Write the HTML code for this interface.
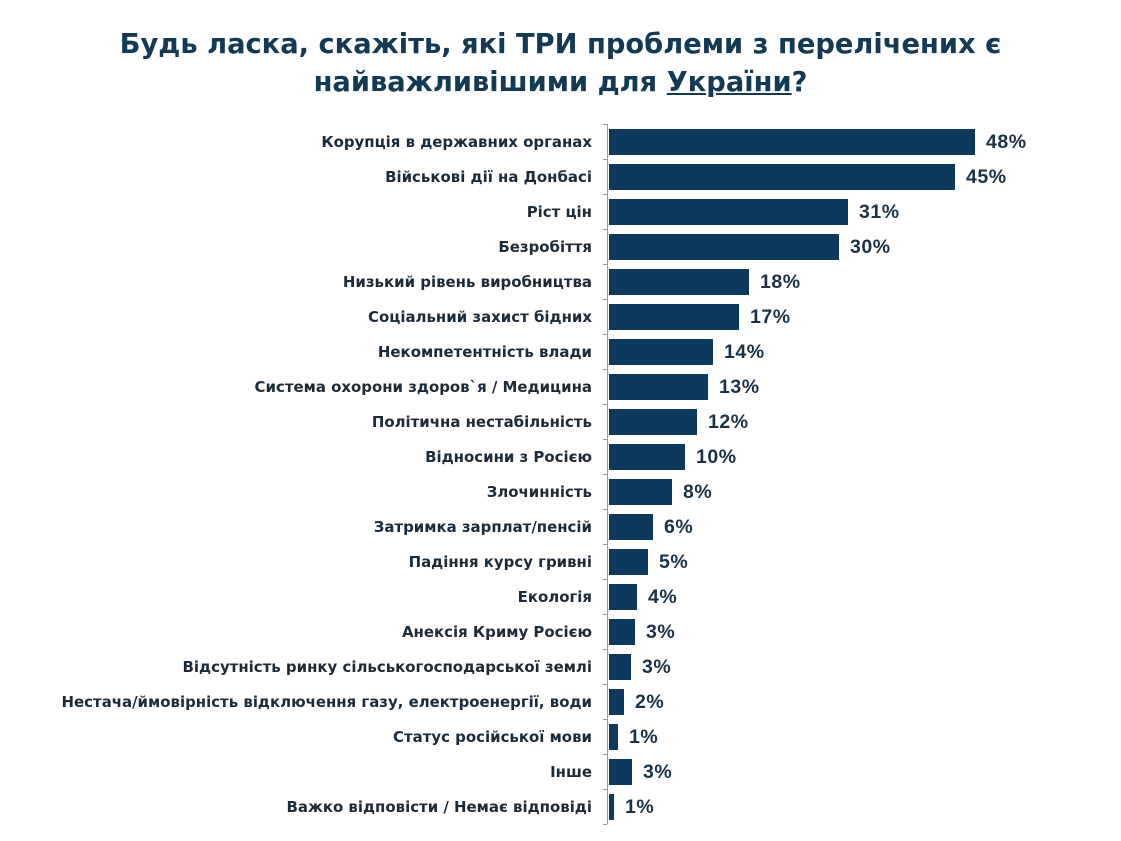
<!DOCTYPE html>
<html><head><meta charset="utf-8"><style>
body{margin:0;background:#fff;width:1121px;height:841px;position:relative;overflow:hidden;font-family:"Liberation Sans","DejaVu Sans",sans-serif}
.t{position:absolute;left:0;width:1121px;text-align:center;top:26px;font-family:"DejaVu Sans",sans-serif;font-size:27.3px;font-weight:bold;color:#133a55;line-height:38px}
.l{position:absolute;right:529px;font-family:"DejaVu Sans",sans-serif;font-weight:bold;font-size:14.95px;color:#1d2a38;white-space:nowrap;height:35px;line-height:36px}
.b{position:absolute;left:609px;height:26px;background:#0d3a5c}
.v{position:absolute;font-size:19.5px;font-weight:bold;color:#1b3147;height:35px;line-height:35px;letter-spacing:0.5px}
.ax{position:absolute;left:607px;top:124px;width:1px;height:700px;background:#999}
.tk{position:absolute;left:603px;width:4px;height:1px;background:#999}
</style></head><body>
<div class="t">Будь ласка, скажіть, які ТРИ проблеми з перелічених є<br>найважливішими для <u>України</u>?</div>
<div class="ax"></div>
<div id="c"></div>
<script>
var d=[["Корупція в державних органах",48,975],["Військові дії на Донбасі",45,955],["Ріст цін",31,848],["Безробіття",30,839],["Низький рівень виробництва",18,749],["Соціальний захист бідних",17,739],["Некомпетентність влади",14,713],["Система охорони здоров`я / Медицина",13,708],["Політична нестабільність",12,697],["Відносини з Росією",10,685],["Злочинність",8,672],["Затримка зарплат/пенсій",6,653],["Падіння курсу гривні",5,648],["Екологія",4,637],["Анексія Криму Росією",3,635],["Відсутність ринку сільськогосподарської землі",3,631],["Нестача/ймовірність відключення газу, електроенергії, води",2,624],["Статус російської мови",1,618],["Інше",3,632],["Важко відповісти / Немає відповіді",1,614]];
var h="";
for(var i=0;i<=20;i++)h+='<div class="tk" style="top:'+(124+35*i)+'px"></div>';
d.forEach(function(r,i){var y=124+35*i;
h+='<div class="l" style="top:'+y+'px">'+r[0]+'</div>';
h+='<div class="b" style="top:'+(y+5)+'px;width:'+(r[2]-609)+'px"></div>';
h+='<div class="v" style="top:'+(y+1)+'px;left:'+(r[2]+11)+'px">'+r[1]+'%</div>';});
document.getElementById("c").innerHTML=h;
</script>
</body></html>
